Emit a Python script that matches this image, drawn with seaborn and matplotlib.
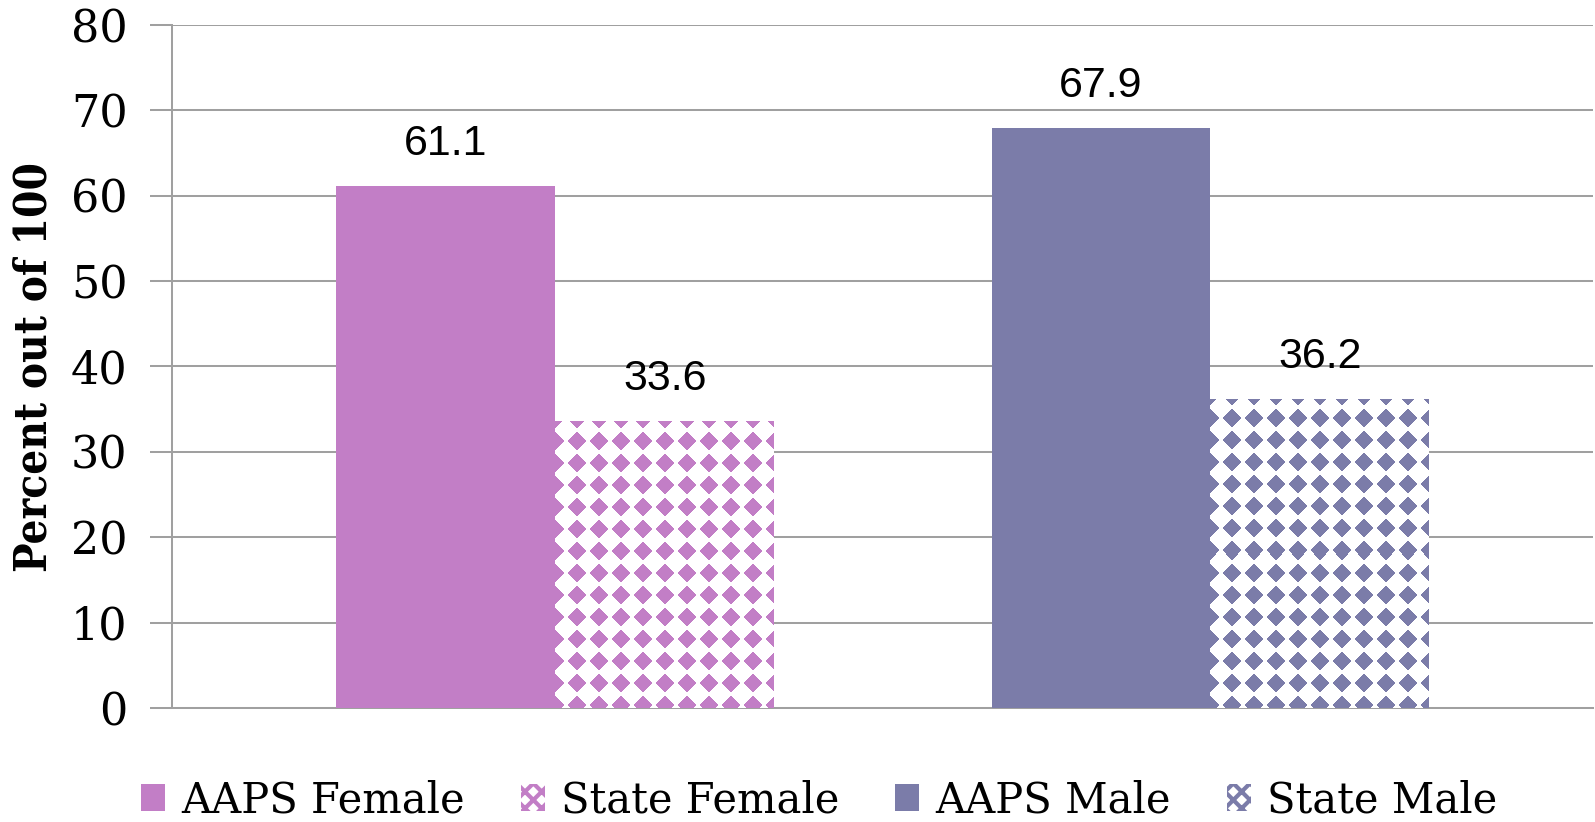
import numpy as np
import pandas as pd
import matplotlib
matplotlib.use("Agg")
import matplotlib.pyplot as plt
import seaborn as sns
from matplotlib.patches import Patch

# ---- data ----
genders = ["Female", "Male"]
sources = ["AAPS", "State"]
aaps_values = [61.1, 67.9]
state_values = [33.6, 36.2]
series_labels = ["AAPS Female", "State Female", "AAPS Male", "State Male"]
y_ticks = [0, 10, 20, 30, 40, 50, 60, 70, 80]

colors = {"Female": "#C27EC6", "Male": "#7B7CA9"}
grid_col = "#A0A0A0"

df = pd.DataFrame({
    "gender": genders + genders,
    "source": ["AAPS"] * 2 + ["State"] * 2,
    "value": aaps_values + state_values,
})

sns.set_style("white")
plt.rcParams["font.family"] = ["DejaVu Serif"]
plt.rcParams["text.color"] = "black"
plt.rcParams["ytick.color"] = "black"
plt.rcParams["axes.labelcolor"] = "black"
plt.rcParams["hatch.linewidth"] = 3

fig = plt.figure(figsize=(15.95, 8.22), dpi=100)
ax = fig.add_axes([172 / 1595, 1 - 708 / 822, (1593 - 172) / 1595, (708 - 25) / 822])

sns.barplot(data=df, x="gender", y="value", hue="source", order=genders,
            hue_order=sources, width=0.668, dodge=True, ax=ax,
            palette=["#888888", "#888888"], legend=False, errorbar=None,
            saturation=1, zorder=3)

ax.set_xlim(-0.585, 1.584)
ax.set_ylim(0, 80)
ax.set_yticks(y_ticks)
ax.set_yticklabels([str(t) for t in y_ticks], fontsize=32, color="black")
ax.set_xticks([])
ax.set_xlabel("")
ax.set_ylabel("Percent out of 100", family="DejaVu Serif", fontweight="bold",
              fontstretch="condensed", fontsize=31.5, labelpad=11, color="black")
ax.yaxis.grid(True, color=grid_col, linewidth=1.45, zorder=0)
ax.set_axisbelow(True)
ax.tick_params(axis="y", left=True, length=16, width=1.45, color=grid_col,
               labelcolor="black", pad=16, direction="out")
for s in ["top", "right"]:
    ax.spines[s].set_visible(False)
for s in ["left", "bottom"]:
    ax.spines[s].set_color(grid_col)
    ax.spines[s].set_linewidth(1.45)

# colour bars
solid_bars = list(ax.containers[0])
state_bars = list(ax.containers[1])
for g, bar in zip(genders, solid_bars):
    bar.set_facecolor(colors[g])
    bar.set_edgecolor("none")
for g, bar in zip(genders, state_bars):
    bar.set_facecolor("white")
    bar.set_edgecolor("none")

fig.canvas.draw()

# diamond texture for State bars
spacing = 22.0
half = 9.3
for g, bar in zip(genders, state_bars):
    bb = bar.get_window_extent()
    w = int(round(bb.width)); h = int(round(bb.height))
    xs = np.arange(w) + 0.5
    ys = np.arange(h) + 0.5  # from bottom
    X, Y = np.meshgrid(xs, ys)
    dx = np.abs(((X + spacing / 2) % spacing) - spacing / 2)
    dy = np.abs(((Y - 3 + spacing / 2) % spacing) - spacing / 2)
    mask = (dx + dy) <= half
    rgb = np.array(matplotlib.colors.to_rgb(colors[g]))
    img = np.ones((h, w, 4))
    img[mask, :3] = rgb
    img = img[::-1]  # top row first
    x0, y0 = bar.get_x(), bar.get_y()
    im = ax.imshow(img, extent=[x0, x0 + bar.get_width(), y0, y0 + bar.get_height()],
                   aspect="auto", interpolation="nearest", zorder=4)
    im.set_clip_path(bar)
ax.set_xlim(-0.585, 1.584)
ax.set_ylim(0, 80)

# value labels
for cont in ax.containers:
    ax.bar_label(cont, labels=[f"{b.get_height():.1f}" for b in cont],
                 padding=16, fontsize=31, family="Liberation Sans", color="black",
                 zorder=5)

# legend
handles = [
    Patch(facecolor=colors["Female"], edgecolor="none"),
    Patch(facecolor="white", edgecolor=colors["Female"], hatch="xx", linewidth=0),
    Patch(facecolor=colors["Male"], edgecolor="none"),
    Patch(facecolor="white", edgecolor=colors["Male"], hatch="xx", linewidth=0),
]
leg = fig.legend(handles, series_labels, loc="center",
                 bbox_to_anchor=(819 / 1595, 1 - 800 / 822),
                 ncol=4, frameon=False, fontsize=30, handlelength=0.58,
                 handleheight=0.62, handletextpad=0.38, columnspacing=1.35,
                 borderaxespad=0)
for t in leg.get_texts():
    t.set_color("black")

fig.savefig("out.png", dpi=100)
